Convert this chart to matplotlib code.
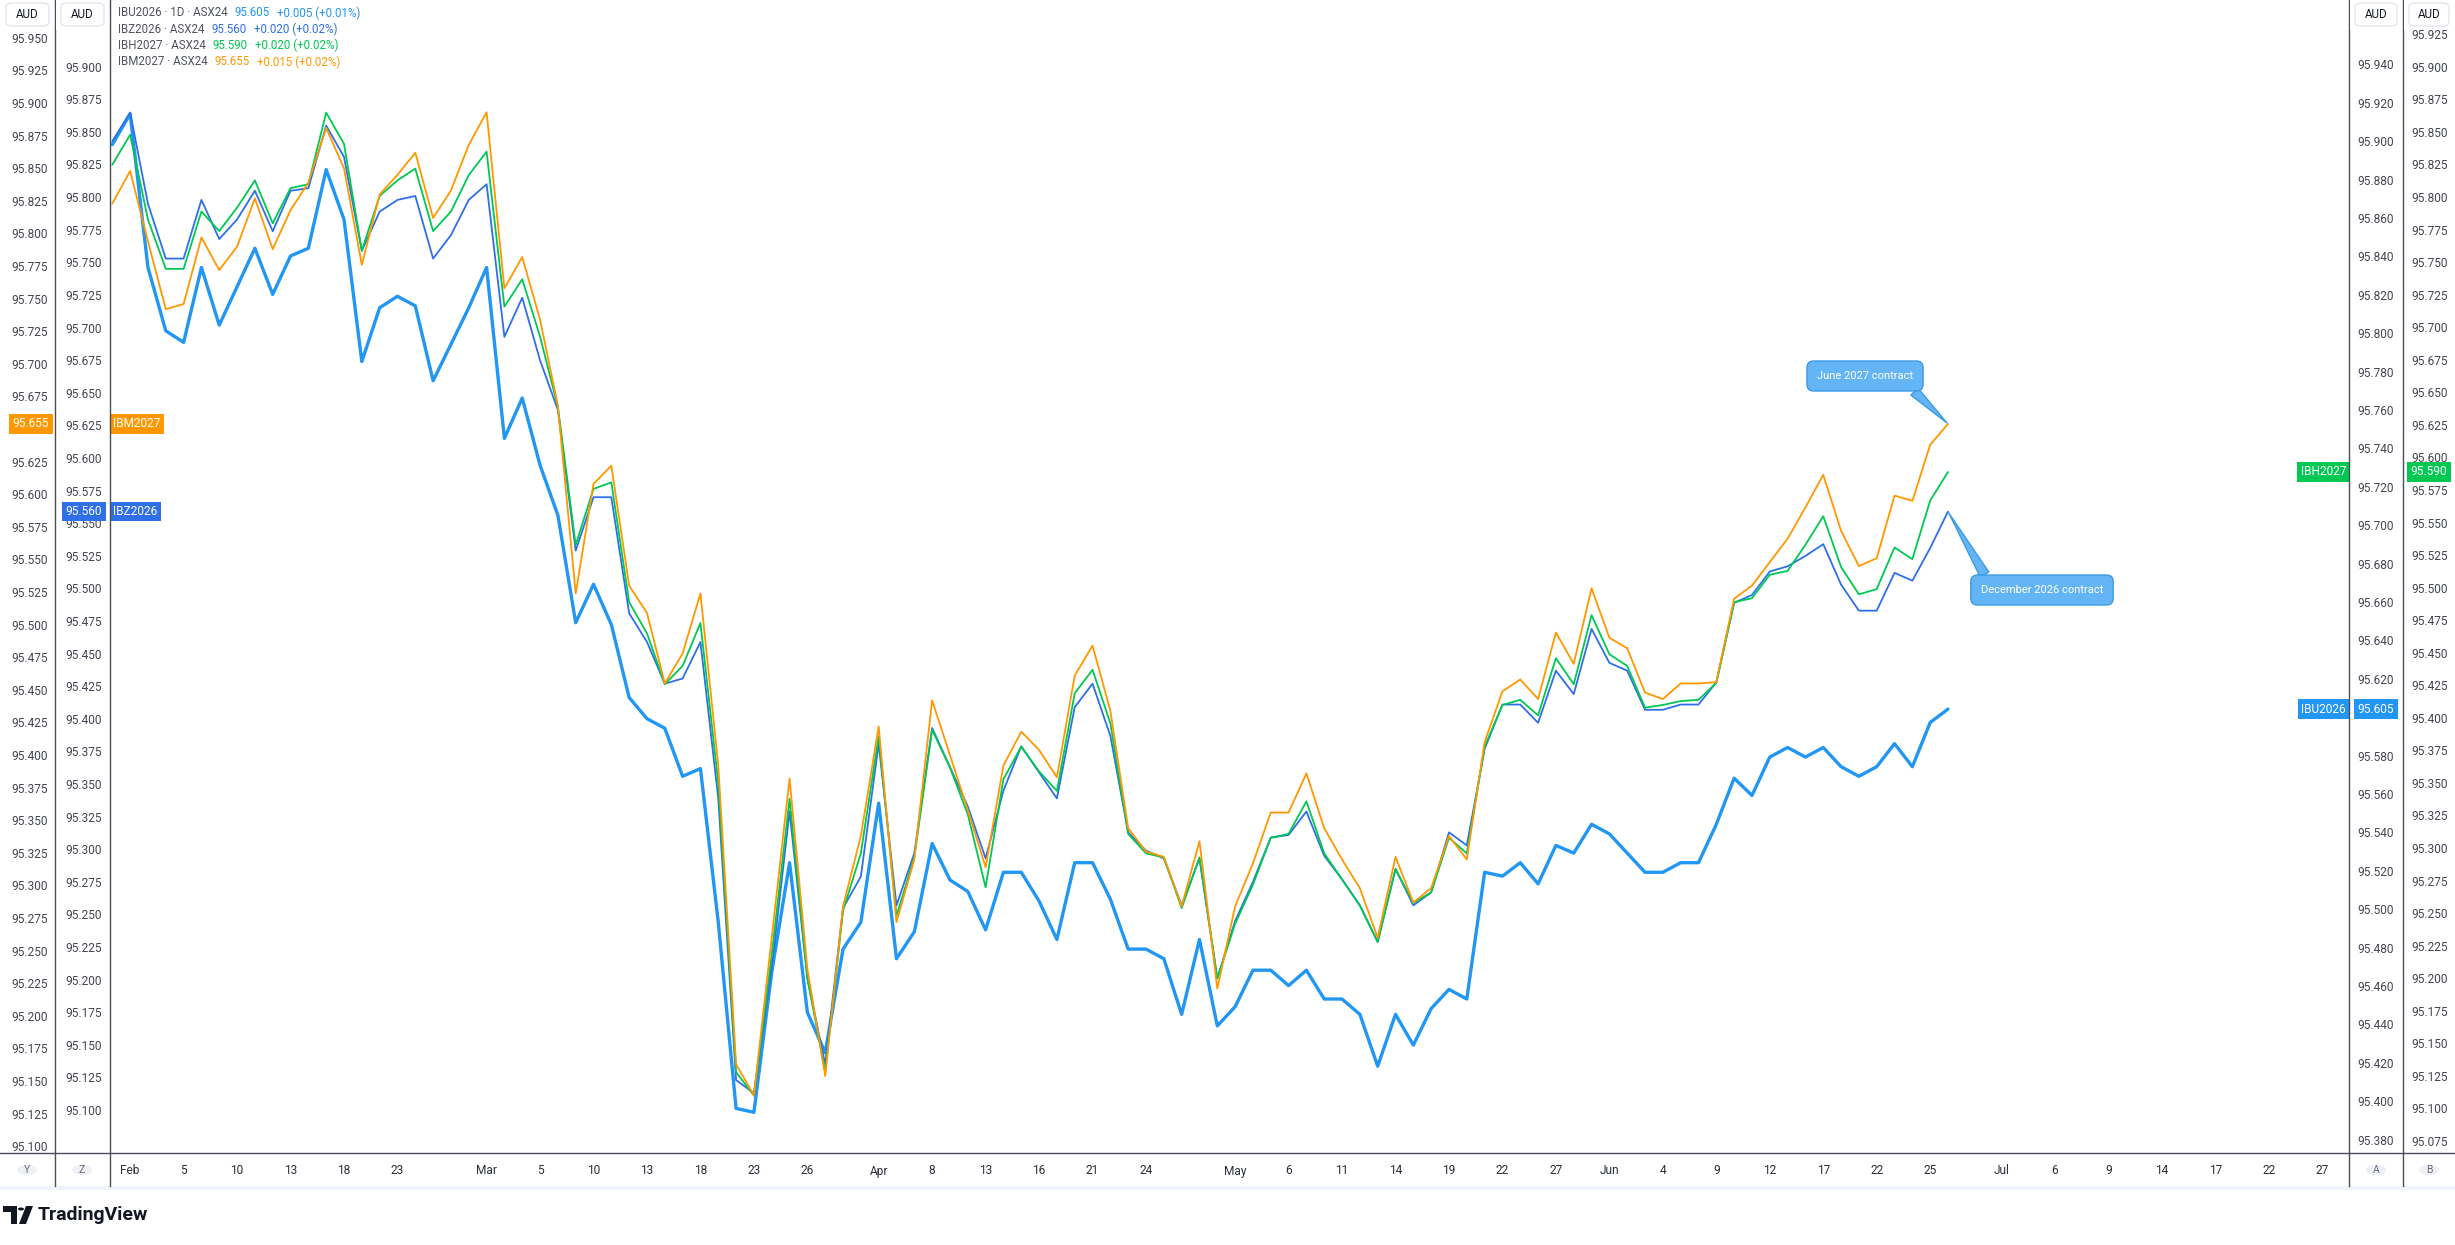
import matplotlib
matplotlib.use("Agg")
import matplotlib.pyplot as plt
import matplotlib.transforms as mtransforms
from matplotlib.patches import FancyBboxPatch, Rectangle, Circle, Polygon
from matplotlib.lines import Line2D
import numpy as np
import pandas as pd

plt.rcParams['font.family'] = ['Roboto', 'DejaVu Sans']

# ASX24 trading days (Good Friday / Easter Monday closed)
days = pd.bdate_range("2026-01-30", "2026-07-31")
days = days.drop(pd.to_datetime(["2026-04-03", "2026-04-06"]))

# daily closes, 30 Jan -> 26 Jun 2026
ibu_2026 = [95.899, 95.915, 95.835, 95.802, 95.796, 95.835, 95.805, 95.825, 95.845, 95.821,
            95.841, 95.845, 95.886, 95.860, 95.786, 95.814, 95.820, 95.815, 95.776, 95.795,
            95.814, 95.835, 95.746, 95.767, 95.732, 95.706, 95.650, 95.670, 95.649, 95.611,
            95.600, 95.595, 95.570, 95.574, 95.494, 95.397, 95.395, 95.468, 95.525, 95.447,
            95.426, 95.480, 95.494, 95.556, 95.475, 95.489, 95.535, 95.516, 95.510, 95.490,
            95.520, 95.520, 95.505, 95.485, 95.525, 95.525, 95.506, 95.480, 95.480, 95.475,
            95.446, 95.485, 95.440, 95.450, 95.469, 95.469, 95.461, 95.469, 95.454, 95.454,
            95.446, 95.419, 95.446, 95.430, 95.449, 95.459, 95.454, 95.520, 95.518, 95.525,
            95.514, 95.534, 95.530, 95.545, 95.540, 95.530, 95.520, 95.520, 95.525, 95.525,
            95.545, 95.569, 95.560, 95.580, 95.585, 95.580, 95.585, 95.575, 95.570, 95.575,
            95.587, 95.575, 95.598, 95.605]
ibz_2026 = [95.844, 95.866, 95.796, 95.754, 95.754, 95.799, 95.769, 95.784, 95.806, 95.775,
            95.806, 95.808, 95.856, 95.832, 95.760, 95.790, 95.799, 95.802, 95.754, 95.772,
            95.799, 95.811, 95.694, 95.724, 95.676, 95.638, 95.530, 95.571, 95.571, 95.482,
            95.460, 95.428, 95.432, 95.460, 95.340, 95.124, 95.114, 95.210, 95.330, 95.202,
            95.136, 95.256, 95.280, 95.382, 95.258, 95.298, 95.394, 95.364, 95.334, 95.294,
            95.346, 95.380, 95.360, 95.340, 95.410, 95.428, 95.388, 95.314, 95.300, 95.294,
            95.258, 95.294, 95.202, 95.246, 95.276, 95.310, 95.312, 95.330, 95.296, 95.278,
            95.258, 95.230, 95.286, 95.258, 95.268, 95.314, 95.304, 95.378, 95.412, 95.412,
            95.398, 95.438, 95.420, 95.470, 95.444, 95.438, 95.408, 95.408, 95.412, 95.412,
            95.429, 95.490, 95.496, 95.514, 95.518, 95.526, 95.535, 95.504, 95.484, 95.484,
            95.513, 95.507, 95.532, 95.560]
ibh_2027 = [95.826, 95.849, 95.784, 95.746, 95.746, 95.790, 95.775, 95.793, 95.814, 95.781,
            95.808, 95.811, 95.866, 95.842, 95.760, 95.802, 95.814, 95.823, 95.775, 95.790,
            95.818, 95.836, 95.717, 95.738, 95.694, 95.640, 95.534, 95.577, 95.582, 95.490,
            95.466, 95.427, 95.441, 95.474, 95.351, 95.129, 95.111, 95.219, 95.339, 95.201,
            95.129, 95.253, 95.297, 95.387, 95.249, 95.294, 95.392, 95.363, 95.327, 95.271,
            95.354, 95.379, 95.360, 95.345, 95.420, 95.438, 95.397, 95.312, 95.297, 95.294,
            95.255, 95.294, 95.201, 95.243, 95.273, 95.309, 95.312, 95.337, 95.297, 95.277,
            95.257, 95.229, 95.285, 95.259, 95.267, 95.309, 95.297, 95.379, 95.411, 95.415,
            95.403, 95.447, 95.427, 95.480, 95.450, 95.441, 95.409, 95.411, 95.414, 95.415,
            95.428, 95.490, 95.493, 95.511, 95.514, 95.534, 95.556, 95.517, 95.496, 95.500,
            95.532, 95.523, 95.568, 95.590]
ibm_2027 = [95.824, 95.849, 95.795, 95.743, 95.747, 95.798, 95.773, 95.791, 95.828, 95.789,
            95.819, 95.840, 95.882, 95.851, 95.777, 95.831, 95.846, 95.863, 95.813, 95.834,
            95.869, 95.894, 95.759, 95.783, 95.735, 95.669, 95.525, 95.609, 95.623, 95.531,
            95.510, 95.456, 95.479, 95.525, 95.393, 95.164, 95.140, 95.261, 95.383, 95.237,
            95.155, 95.285, 95.339, 95.423, 95.273, 95.321, 95.443, 95.401, 95.359, 95.315,
            95.393, 95.419, 95.405, 95.384, 95.462, 95.485, 95.435, 95.345, 95.327, 95.323,
            95.285, 95.335, 95.222, 95.285, 95.318, 95.357, 95.357, 95.387, 95.345, 95.321,
            95.299, 95.261, 95.323, 95.288, 95.299, 95.339, 95.321, 95.411, 95.450, 95.459,
            95.444, 95.495, 95.471, 95.529, 95.491, 95.483, 95.449, 95.444, 95.456, 95.456,
            95.457, 95.521, 95.531, 95.549, 95.567, 95.591, 95.616, 95.573, 95.546, 95.552,
            95.600, 95.596, 95.639, 95.655]

symbols = ["IBU2026", "IBZ2026", "IBH2027", "IBM2027"]
legend_desc = ["IBU2026 · 1D · ASX24", "IBZ2026 · ASX24", "IBH2027 · ASX24", "IBM2027 · ASX24"]
legend_last = ["95.605", "95.560", "95.590", "95.655"]
legend_chg = ["+0.005 (+0.01%)", "+0.020 (+0.02%)", "+0.020 (+0.02%)", "+0.015 (+0.02%)"]

tick_days = ["2026-02-02", "2026-02-05", "2026-02-10", "2026-02-13", "2026-02-18", "2026-02-23",
             "2026-03-02", "2026-03-05", "2026-03-10", "2026-03-13", "2026-03-18", "2026-03-23",
             "2026-03-26", "2026-04-01", "2026-04-08", "2026-04-13", "2026-04-16", "2026-04-21",
             "2026-04-24", "2026-05-01", "2026-05-06", "2026-05-11", "2026-05-14", "2026-05-19",
             "2026-05-22", "2026-05-27", "2026-06-01", "2026-06-04", "2026-06-09", "2026-06-12",
             "2026-06-17", "2026-06-22", "2026-06-25", "2026-07-01", "2026-07-06", "2026-07-09",
             "2026-07-14", "2026-07-17", "2026-07-22", "2026-07-27"]

# colours
C_IBU = "#2196F3"
C_IBZ = "#2F6FE8"
C_IBH = "#00C853"
C_IBM = "#FF9800"
TXT = "#434651"
LINE = "#4a4d57"
CALL = "#64B5F6"
CALL_EDGE = "#3A9BE6"

W, H = 2455, 1245
PL, PR, PT, PB = 110, 2349, 0, 1153

fig = plt.figure(figsize=(W / 100, H / 100), dpi=100)
fig.patch.set_facecolor("white")


def box(x0, y0, x1, y1):
    return [x0 / W, 1 - y1 / H, (x1 - x0) / W, (y1 - y0) / H]


xs = np.arange(len(ibu_2026))
x_lim = (-0.13, 125.5)

lim_ibm = (95.0959, 95.9801)
lim_ibz = (95.0681, 95.9523)
lim_ibu = (95.3738, 95.9743)
lim_ibh = (95.0669, 95.9525)


def series_ax(vals, lim, color, lw):
    a = fig.add_axes(box(PL, PT, PR, PB))
    a.patch.set_visible(False)
    a.set_xlim(*x_lim)
    a.set_ylim(*lim)
    a.axis("off")
    a.plot(xs, vals, color=color, lw=lw, solid_joinstyle="round", solid_capstyle="round")
    return a


ax_u = series_ax(ibu_2026, lim_ibu, C_IBU, 2.4)
ax_z = series_ax(ibz_2026, lim_ibz, C_IBZ, 1.3)
ax_h = series_ax(ibh_2027, lim_ibh, C_IBH, 1.3)
ax_m = series_ax(ibm_2027, lim_ibm, C_IBM, 1.3)


def strip(x0, x1, lim, ticks, tx, ha, last):
    s = fig.add_axes(box(x0, PT, x1, PB))
    s.patch.set_visible(False)
    s.set_xlim(x0, x1)
    s.set_ylim(*lim)
    s.axis("off")
    # labels hidden behind the last-value tag are left out
    gap = (lim[1] - lim[0]) * 13 / (PB - PT)
    for t in ticks:
        if abs(t - last) < gap:
            continue
        s.text(tx, t, f"{t:.3f}", ha=ha, va="center", fontsize=8.6, color=TXT, clip_on=True)
    return s


s_y = strip(0, 55, lim_ibm, np.arange(95100, 95951, 25) / 1000, 48, "right", ibm_2027[-1])
s_z = strip(55, 110, lim_ibz, np.arange(95100, 95901, 25) / 1000, 102, "right", ibz_2026[-1])
s_a = strip(2349, 2403, lim_ibu, np.arange(95380, 95941, 20) / 1000, 2357, "left", ibu_2026[-1])
s_b = strip(2403, 2455, lim_ibh, np.arange(95075, 95926, 25) / 1000, 2411, "left", ibh_2027[-1])


# last value tags on the price scales and symbol tags in the pane
def tag(ax, x, y, text, color, ha="center"):
    ax.text(x, y, text, ha=ha, va="center", fontsize=8.6, color="white", zorder=10,
            bbox=dict(boxstyle="square,pad=0.28", fc=color, ec="none"))


tag(s_y, 31, ibm_2027[-1], legend_last[3], C_IBM)
tag(s_z, 84, ibz_2026[-1], legend_last[1], C_IBZ)
tag(s_a, 2376, ibu_2026[-1], legend_last[0], C_IBU)
tag(s_b, 2429, ibh_2027[-1], legend_last[2], C_IBH)

blend_l = lambda a: mtransforms.blended_transform_factory(fig.transFigure, a.transData)
for a, v, name, c, ha, xpx in [(ax_m, ibm_2027[-1], symbols[3], C_IBM, "left", PL + 3),
                               (ax_z, ibz_2026[-1], symbols[1], C_IBZ, "left", PL + 3),
                               (ax_h, ibh_2027[-1], symbols[2], C_IBH, "right", PR - 3),
                               (ax_u, ibu_2026[-1], symbols[0], C_IBU, "right", PR - 3)]:
    a.text(xpx / W, v, name, transform=blend_l(a), ha=ha, va="center", fontsize=8.6,
           color="white", zorder=10, bbox=dict(boxstyle="square,pad=0.28", fc=c, ec="none"))

# separators
for xpx in [55, 110, 2349, 2403]:
    fig.add_artist(Line2D([xpx / W, xpx / W], [1, 1 - 1186 / H], color=LINE, lw=1.0, zorder=6))
fig.add_artist(Line2D([0, 1], [1 - PB / H, 1 - PB / H], color=LINE, lw=1.0, zorder=6))
fig.add_artist(Rectangle((0, 1 - 1190 / H), 1, 4 / H, transform=fig.transFigure,
                         fc="#F0F3FA", ec="none", zorder=5))

# header boxes on price scales
for x0, x1 in [(0, 55), (55, 110), (2349, 2403), (2403, 2455)]:
    fig.add_artist(Rectangle((x0 / W + 1 / W, 1 - 30 / H), (x1 - x0 - 2) / W, 30 / H,
                             transform=fig.transFigure, fc="white", ec="none", zorder=7))
    fig.add_artist(FancyBboxPatch(((x0 + 6) / W, 1 - 26 / H), (x1 - x0 - 12) / W, 23 / H,
                                  boxstyle="round,pad=0,rounding_size=0.003",
                                  transform=fig.transFigure, fc="white", ec="#E0E3EB",
                                  lw=0.9, zorder=8))
    fig.text((x0 + x1) / 2 / W, 1 - 14.5 / H, "AUD", ha="center", va="center",
             fontsize=8.4, color="#131722", zorder=9)

# scale letters at the bottom
for xc, letter in [(27, "Y"), (82, "Z"), (2376, "A"), (2429, "B")]:
    fig.add_artist(Circle((xc / W, 1 - 1170 / H), 10 / W, transform=fig.transFigure,
                          fc="#EEF0F5", ec="none", zorder=6))
    fig.text(xc / W, 1 - 1170 / H, letter, ha="center", va="center", fontsize=7.5,
             color="#6a6d78", zorder=7)

# time scale labels
tpos = [days.get_loc(pd.Timestamp(d)) for d in tick_days]
prev = None
tb = mtransforms.blended_transform_factory(ax_u.transData, fig.transFigure)
for d, p in zip(tick_days, tpos):
    ts = pd.Timestamp(d)
    label = ts.strftime("%b") if ts.month != prev else str(ts.day)
    prev = ts.month
    ax_u.text(p, 1 - 1171 / H, label, transform=tb, ha="center", va="center",
              fontsize=8.6, color="#2a2e39")

# legend lines
r = fig.canvas.get_renderer()
for i, (desc, last, chg, c) in enumerate(zip(legend_desc, legend_last, legend_chg,
                                              [C_IBU, C_IBZ, C_IBH, C_IBM])):
    y = 1 - (13 + 16.3 * i) / H
    t = fig.text(118 / W, y, desc, ha="left", va="center", fontsize=8.3, color="#50535E", zorder=9)
    x1 = t.get_window_extent(renderer=r).x1
    t2 = fig.text((x1 + 7) / W, y, last, ha="left", va="center", fontsize=8.3, color=c, zorder=9)
    x2 = t2.get_window_extent(renderer=r).x1
    fig.text((x2 + 7) / W, y, chg, ha="left", va="center", fontsize=8.3, color=c, zorder=9)

# callouts
ax_m.annotate("June 2027 contract", xy=(xs[-1], ibm_2027[-1]), xycoords="data",
              xytext=(1865 / W, 1 - 376 / H), textcoords="figure fraction",
              ha="center", va="center", fontsize=8, color="white", zorder=12,
              bbox=dict(boxstyle="round,pad=0.9,rounding_size=0.6", fc=CALL, ec=CALL_EDGE, lw=1),
              arrowprops=dict(arrowstyle="wedge,tail_width=0.9,shrink_factor=0.5", fc=CALL,
                              ec=CALL_EDGE, lw=1, shrinkA=0, shrinkB=1, relpos=(0.9, 0.0)))
ax_z.annotate("December 2026 contract", xy=(xs[-1], ibz_2026[-1]), xycoords="data",
              xytext=(2042 / W, 1 - 590 / H), textcoords="figure fraction",
              ha="center", va="center", fontsize=8, color="white", zorder=12,
              bbox=dict(boxstyle="round,pad=0.9,rounding_size=0.6", fc=CALL, ec=CALL_EDGE, lw=1),
              arrowprops=dict(arrowstyle="wedge,tail_width=0.9,shrink_factor=0.5", fc=CALL,
                              ec=CALL_EDGE, lw=1, shrinkA=0, shrinkB=1, relpos=(0.08, 1.0)))

# TradingView mark
fig.add_artist(Polygon([(3 / W, 1 - 1206 / H), (17 / W, 1 - 1206 / H), (17 / W, 1 - 1224 / H),
                        (11 / W, 1 - 1224 / H), (11 / W, 1 - 1212 / H), (3 / W, 1 - 1212 / H)],
                       closed=True, transform=fig.transFigure, fc="#131722", ec="none"))
fig.add_artist(Circle((21 / W, 1 - 1209 / H), 3 / W, transform=fig.transFigure,
                      fc="#131722", ec="none"))
fig.add_artist(Polygon([(26 / W, 1 - 1206 / H), (33 / W, 1 - 1206 / H), (26 / W, 1 - 1224 / H),
                        (19 / W, 1 - 1224 / H)],
                       closed=True, transform=fig.transFigure, fc="#131722", ec="none"))
fig.text(38 / W, 1 - 1215 / H, "TradingView", ha="left", va="center", fontsize=14,
         fontweight="bold", color="#131722")

fig.savefig("out.png", dpi=100, facecolor="white")
